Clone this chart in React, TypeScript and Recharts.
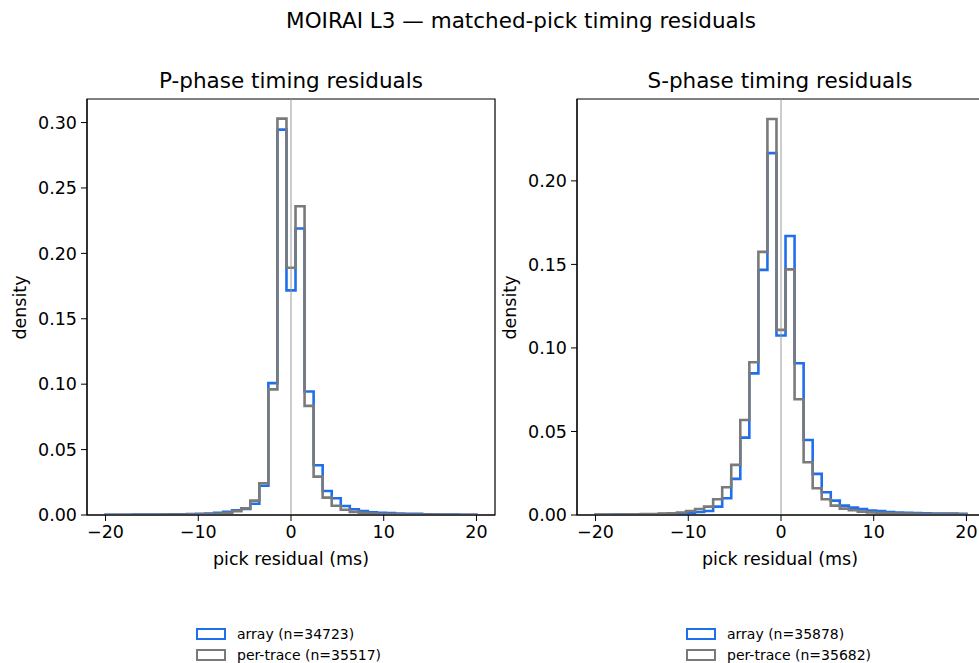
import React from 'react';
import { ComposedChart, Line, XAxis, YAxis, ReferenceLine, ReferenceArea } from 'recharts';

const N_BINS = 41;
const X_MIN = -20;
const X_MAX = 20;
const X_TICKS = [-20, -10, 0, 10, 20];
const P_Y_TICKS = [0, 0.05, 0.1, 0.15, 0.2, 0.25, 0.3];
const S_Y_TICKS = [0, 0.05, 0.1, 0.15, 0.2];

const P_ARRAY = [
  0.0002, 0.0002, 0.0002, 0.0003, 0.0003, 0.0003, 0.0004, 0.0005, 0.0006, 0.0008,
  0.001, 0.0012, 0.0016, 0.0025, 0.0035, 0.0046, 0.0086, 0.0224, 0.1008, 0.2946,
  0.1717, 0.219, 0.0944, 0.038, 0.0184, 0.0128, 0.0069, 0.0044, 0.003, 0.0021,
  0.0016, 0.0014, 0.0011, 0.001, 0.0009, 0.0005, 0.0004, 0.0003, 0.0003, 0.0002, 0.0002,
];
const P_TRACE = [
  0.0002, 0.0002, 0.0002, 0.0002, 0.0002, 0.0002, 0.0003, 0.0003, 0.0004, 0.0005,
  0.0006, 0.0008, 0.001, 0.0016, 0.003, 0.0051, 0.011, 0.0243, 0.096, 0.303,
  0.189, 0.236, 0.0834, 0.0293, 0.0133, 0.0071, 0.004, 0.0024, 0.0016, 0.0011,
  0.0008, 0.0007, 0.0005, 0.0004, 0.0004, 0.0003, 0.0003, 0.0002, 0.0002, 0.0002, 0.0002,
];
const S_ARRAY = [
  0.0001, 0.0001, 0.0002, 0.0002, 0.0003, 0.0003, 0.0004, 0.0005, 0.0006, 0.0008,
  0.0012, 0.0018, 0.0024, 0.005, 0.01, 0.0216, 0.0463, 0.0848, 0.1467, 0.2166,
  0.1074, 0.167, 0.0908, 0.0449, 0.0246, 0.0136, 0.0086, 0.0056, 0.0044, 0.0035,
  0.0027, 0.0023, 0.0018, 0.0015, 0.0013, 0.0011, 0.001, 0.0009, 0.0008, 0.0008, 0.0007,
];
const S_TRACE = [
  0.0002, 0.0002, 0.0003, 0.0003, 0.0004, 0.0005, 0.0006, 0.0008, 0.001, 0.0015,
  0.0024, 0.0036, 0.005, 0.0094, 0.0166, 0.03, 0.0569, 0.0914, 0.1575, 0.237,
  0.1108, 0.147, 0.0693, 0.0316, 0.016, 0.0094, 0.0056, 0.0038, 0.0028, 0.002,
  0.0016, 0.0013, 0.001, 0.0009, 0.0008, 0.0007, 0.0006, 0.0006, 0.0005, 0.0005, 0.0004,
];

const BLUE = '#1f6feb';
const GRAY = '#7a7a7a';
const FONT = '"DejaVu Sans", sans-serif';

function buildSteps(a: number[], p: number[]) {
  const w = (X_MAX - X_MIN) / N_BINS;
  const rows: { x: number; a: number; p: number }[] = [{ x: X_MIN, a: 0, p: 0 }];
  for (let k = 0; k < N_BINS; k++) {
    rows.push({ x: X_MIN + k * w, a: a[k], p: p[k] });
  }
  rows.push({ x: X_MAX, a: a[N_BINS - 1], p: p[N_BINS - 1] });
  rows.push({ x: X_MAX, a: 0, p: 0 });
  return rows;
}

const fmtX = (v: number) => String(v).replace('-', '\u2212');
const fmtY = (v: number) => v.toFixed(2);

const tickStyle = { fill: '#000', fontSize: 17.5, fontFamily: FONT };

function Panel(props: { left: number; a: number[]; p: number[]; yMax: number; yTicks: number[] }) {
  const data = buildSteps(props.a, props.p);
  const W = 500;
  const H = 663;
  const xh = 30;
  return (
    <div style={{ position: 'absolute', left: props.left, top: 0 }}>
      <ComposedChart
        width={W}
        height={H}
        data={data}
        margin={{ top: 99, right: W - 87 - 408, bottom: H - 515 - xh, left: 0 }}
      >
        <XAxis
          type="number"
          dataKey="x"
          domain={[-22, 22]}
          allowDataOverflow
          ticks={X_TICKS}
          tickFormatter={fmtX}
          tick={tickStyle}
          tickSize={6}
          tickMargin={5}
          stroke="#000"
          height={xh}
        />
        <YAxis
          type="number"
          domain={[0, props.yMax]}
          allowDataOverflow
          ticks={props.yTicks}
          tickFormatter={fmtY}
          tick={tickStyle}
          tickSize={6}
          tickMargin={4}
          stroke="#000"
          width={87}
        />
        <Line
          type="stepAfter"
          dataKey="a"
          stroke={BLUE}
          strokeWidth={2.6}
          strokeLinejoin="miter"
          dot={false}
          activeDot={false}
          isAnimationActive={false}
        />
        <Line
          type="stepAfter"
          dataKey="p"
          stroke={GRAY}
          strokeWidth={2.6}
          strokeLinejoin="miter"
          dot={false}
          activeDot={false}
          isAnimationActive={false}
        />
        <ReferenceLine x={0} stroke="#9a9a9a" strokeWidth={1} />
        <ReferenceArea x1={-22} x2={22} y1={0} y2={props.yMax} fill="none" stroke="#000" strokeWidth={1.2} />
      </ComposedChart>
    </div>
  );
}

function Text(props: { cx: number; cy: number; size: number; children: React.ReactNode; rotate?: boolean }) {
  const w = 600;
  return (
    <div
      style={{
        position: 'absolute',
        left: props.cx - w / 2,
        top: props.cy - props.size * 0.6,
        width: w,
        textAlign: 'center',
        fontSize: props.size,
        lineHeight: `${props.size * 1.2}px`,
        fontFamily: FONT,
        color: '#000',
        whiteSpace: 'nowrap',
        transform: props.rotate ? 'rotate(-90deg)' : undefined,
      }}
    >
      {props.children}
    </div>
  );
}

function LegendRow(props: { x: number; cy: number; color: string; label: string }) {
  return (
    <>
      <div
        style={{
          position: 'absolute',
          left: props.x,
          top: props.cy - 6,
          width: 30,
          height: 12,
          boxSizing: 'border-box',
          border: `2.6px solid ${props.color}`,
        }}
      />
      <div
        style={{
          position: 'absolute',
          left: props.x + 41,
          top: props.cy - 9,
          fontSize: 14,
          lineHeight: '18px',
          fontFamily: FONT,
          color: '#000',
          whiteSpace: 'nowrap',
        }}
      >
        {props.label}
      </div>
    </>
  );
}

export default function App() {
  return (
    <div
      style={{
        position: 'absolute',
        left: 0,
        top: 0,
        width: 979,
        height: 663,
        overflow: 'hidden',
        background: '#fff',
      }}
    >
      <Panel left={0} a={P_ARRAY} p={P_TRACE} yMax={0.318} yTicks={P_Y_TICKS} />
      <Panel left={490} a={S_ARRAY} p={S_TRACE} yMax={0.249} yTicks={S_Y_TICKS} />
      <Text cx={521} cy={21} size={21.5}>MOIRAI L3 — matched-pick timing residuals</Text>
      <Text cx={291} cy={81} size={21.5}>P-phase timing residuals</Text>
      <Text cx={780} cy={81} size={21.5}>S-phase timing residuals</Text>
      <Text cx={291} cy={559} size={17.5}>pick residual (ms)</Text>
      <Text cx={780} cy={559} size={17.5}>pick residual (ms)</Text>
      <Text cx={20} cy={307} size={17.5} rotate>density</Text>
      <Text cx={510} cy={307} size={17.5} rotate>density</Text>
      <LegendRow x={196} cy={634} color={BLUE} label="array (n=34723)" />
      <LegendRow x={196} cy={655} color={GRAY} label="per-trace (n=35517)" />
      <LegendRow x={686} cy={634} color={BLUE} label="array (n=35878)" />
      <LegendRow x={686} cy={655} color={GRAY} label="per-trace (n=35682)" />
    </div>
  );
}
